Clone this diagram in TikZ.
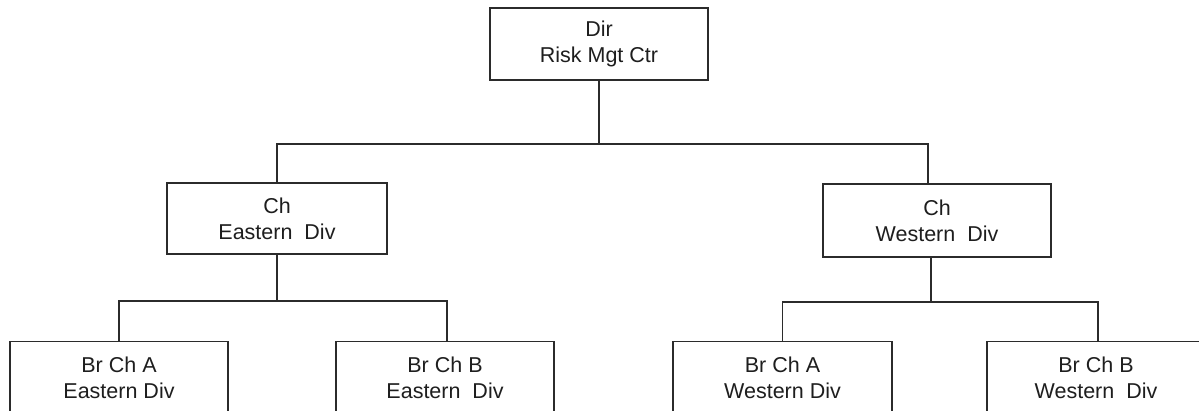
\documentclass[tikz,border=0pt]{standalone}
\usepackage{fontspec}
\setmainfont{Liberation Sans}
\usetikzlibrary{calc}
\definecolor{ln}{HTML}{2B2B2B}
\definecolor{tx}{HTML}{1E1E1E}
\tikzset{
  box/.style={draw=ln, line width=1.7pt, fill=white, rectangle, align=center,
    text=tx, font=\fontsize{21.5}{26}\selectfont, inner sep=0pt},
  conn/.style={draw=ln, line width=1.7pt}
}
\begin{document}
\begin{tikzpicture}[x=1pt,y=-1pt]
\useasboundingbox (0,0) rectangle (1199,411);
\clip (0,0) rectangle (1199,411);
% top
\node[box, minimum width=218pt, minimum height=72pt] (dir) at (599,44) {Dir\\Risk Mgt Ctr};
% division chiefs
\node[box, minimum width=220pt, minimum height=71pt] (lch) at (277,218.5) {Ch\\Eastern\ \ Div};
\node[box, minimum width=228pt, minimum height=73pt] (rch) at (937,220.5) {Ch\\Western\ \ Div};
% branch chiefs (cut by the lower edge)
\node[box, minimum width=218pt, minimum height=73pt] (la) at (119,378) {Br Ch A\\Eastern Div};
\node[box, minimum width=218pt, minimum height=73pt] (lb) at (445,378) {Br Ch B\\Eastern\ \ Div};
\node[box, minimum width=219pt, minimum height=73pt] (ra) at (782.5,378) {Br Ch A\\Western Div};
\node[box, minimum width=218pt, minimum height=73pt] (rb) at (1096,378) {Br Ch B\\Western\ \ Div};
% bus coordinates
\coordinate (tbus) at ($(dir.south)+(0,63)$);
\coordinate (lbus) at ($(lch.south)+(0,46)$);
\coordinate (rbus) at ($(rch.south)+(-6,44)$);
% connectors
\draw[conn] (dir.south) -- (tbus);
\draw[conn] (lch.north) -- (lch.north |- tbus) -- ($(rch.north |- tbus)+(-9,0)$) -- ($(rch.north)+(-9,0)$);
\draw[conn] (lch.south) -- (lbus);
\draw[conn] (la.north) -- (la.north |- lbus) -- ($(lb.north |- lbus)+(2,0)$) -- ($(lb.north)+(2,0)$);
\draw[conn] ($(rch.south)+(-6,0)$) -- (rbus);
\draw[conn] (ra.north) -- (ra.north |- rbus) -- ($(rb.north |- rbus)+(2,0)$) -- ($(rb.north)+(2,0)$);
\end{tikzpicture}
\end{document}
